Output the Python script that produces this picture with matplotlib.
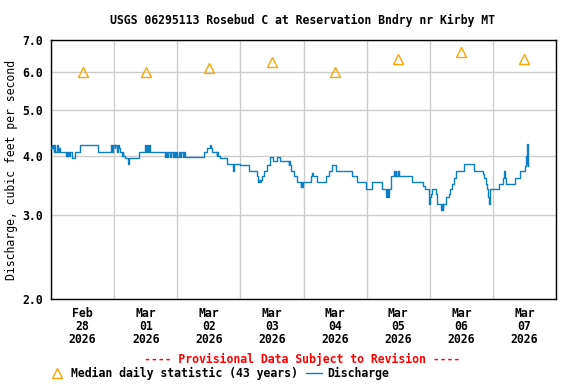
import numpy as np
import pandas as pd
import matplotlib
matplotlib.use("Agg")
import matplotlib.pyplot as plt
import matplotlib.dates as mdates
from matplotlib.lines import Line2D
from matplotlib.ticker import FormatStrFormatter, NullLocator

# discharge (hours after 2026-02-28 00:00, cfs)
step_hours = [
    0.0, 0.3, 0.5, 0.8, 1.0, 1.3, 1.5, 2.3, 2.5, 3.0, 3.3, 5.7, 6.0, 6.2, 6.5,
    6.7, 7.2, 7.8, 9.3, 11.2, 17.8, 22.9, 23.3, 23.6, 24.2, 24.5, 25.0, 25.3,
    25.8, 26.3, 27.0, 27.3, 27.5, 28.2, 29.3, 29.6, 33.6, 35.8, 36.1, 36.6,
    37.0, 37.4, 37.8, 43.2, 43.6, 44.2, 44.6, 45.3, 45.7, 46.2, 46.6, 47.2,
    47.5, 48.0, 48.5, 49.2, 49.6, 50.0, 50.6, 51.0, 58.0, 59.5, 60.3, 60.8,
    61.2, 63.0, 63.3, 63.6, 64.2, 66.9, 69.3, 69.6, 72.0, 75.2, 78.4, 78.8,
    79.2, 79.5, 80.0, 80.3, 81.0, 82.1, 83.4, 84.3, 85.9, 86.9, 90.4, 90.6,
    90.8, 91.1, 92.3, 93.6, 94.9, 95.2, 95.5, 95.9, 98.7, 99.4, 99.7, 101.3,
    104.5, 105.7, 107.0, 108.3, 114.6, 116.5, 119.6, 122.2, 126.0, 127.5,
    127.8, 128.0, 128.5, 129.1, 130.4, 130.7, 131.0, 131.3, 131.8, 132.2,
    137.4, 141.5, 142.2, 143.8, 144.2, 144.4, 145.0, 146.3, 146.9, 148.3,
    148.6, 148.9, 149.2, 150.1, 151.4, 151.8, 152.4, 153.4, 154.0, 157.1,
    161.0, 164.2, 164.8, 165.4, 165.9, 166.3, 166.6, 166.9, 170.5, 171.8,
    172.4, 172.7, 173.1, 176.5, 178.4, 180.4, 180.7, 180.9, 181.1, 181.3,
    181.5,
]
step_cfs = [
    4.15, 4.21, 4.15, 4.21, 4.08, 4.21, 4.08, 4.21, 4.08, 4.15, 4.08, 3.99,
    4.08, 3.99, 4.08, 3.99, 4.08, 3.96, 4.08, 4.21, 4.08, 4.21, 4.08, 4.21,
    4.15, 4.21, 4.08, 4.21, 4.15, 4.08, 3.99, 4.08, 3.99, 3.96, 3.85, 3.96,
    4.08, 4.21, 4.08, 4.21, 4.08, 4.21, 4.08, 3.97, 4.08, 3.97, 4.08, 3.97,
    4.08, 3.97, 4.08, 3.97, 4.08, 3.97, 4.08, 3.97, 4.08, 3.97, 4.08, 3.97,
    4.08, 4.15, 4.21, 4.15, 4.08, 3.99, 4.08, 3.99, 3.96, 3.85, 3.71, 3.85,
    3.83, 3.72, 3.62, 3.52, 3.56, 3.52, 3.56, 3.62, 3.72, 3.83, 3.97, 3.90,
    3.97, 3.90, 3.83, 3.90, 3.83, 3.72, 3.62, 3.52, 3.44, 3.52, 3.44, 3.52,
    3.62, 3.67, 3.62, 3.52, 3.62, 3.72, 3.83, 3.72, 3.62, 3.52, 3.40, 3.52,
    3.40, 3.28, 3.40, 3.28, 3.40, 3.62, 3.72, 3.62, 3.72, 3.62, 3.72, 3.62,
    3.52, 3.46, 3.40, 3.17, 3.27, 3.33, 3.40, 3.33, 3.16, 3.07, 3.16, 3.07,
    3.16, 3.27, 3.33, 3.40, 3.49, 3.59, 3.72, 3.84, 3.72, 3.66, 3.59, 3.49,
    3.40, 3.27, 3.16, 3.40, 3.49, 3.59, 3.72, 3.59, 3.49, 3.59, 3.72, 3.80,
    4.00, 3.85, 4.23, 3.80, 3.84,
]

# median daily statistic (43 years), one per day
median_days = ["2026-02-28", "2026-03-01", "2026-03-02", "2026-03-03",
               "2026-03-04", "2026-03-05", "2026-03-06", "2026-03-07"]
median_cfs = [6.0, 6.0, 6.1, 6.3, 6.0, 6.4, 6.6, 6.4]

y_ticks = [2.0, 3.0, 4.0, 5.0, 6.0, 7.0]

title = "USGS 06295113 Rosebud C at Reservation Bndry nr Kirby MT"
ylabel = "Discharge, cubic feet per second"
notice = "---- Provisional Data Subject to Revision ----"


def main():
    plt.rcParams["font.family"] = ["DejaVu Sans Mono"]
    plt.rcParams["font.weight"] = "bold"
    plt.rcParams["font.size"] = 8.3

    start = pd.Timestamp("2026-02-28")
    times = start + pd.to_timedelta(step_hours, unit="h")
    mdays = pd.to_datetime(median_days) + pd.Timedelta(hours=12)

    fig = plt.figure(figsize=(5.76, 3.84), dpi=100)
    ax = fig.add_axes([51 / 576, 1 - 299 / 384, 505 / 576, 259 / 384])

    ax.step(times, step_cfs, where="post", color="#0a7fc8", lw=1.0, zorder=3)
    ax.plot(mdays, median_cfs, ls="none", marker="^", ms=7.5, mfc="none",
            mec="#ffa500", mew=1.0, zorder=4)

    ax.set_yscale("log")
    ax.set_ylim(2.0, 7.0)
    ax.set_yticks(y_ticks)
    ax.yaxis.set_major_formatter(FormatStrFormatter("%.1f"))
    ax.yaxis.set_minor_locator(NullLocator())

    ax.set_xlim(start, start + pd.Timedelta(days=8))
    ax.xaxis.set_major_locator(mdates.HourLocator(byhour=[12]))
    ax.xaxis.set_major_formatter(mdates.DateFormatter("%b\n%d\n%Y"))
    ax.xaxis.set_minor_locator(mdates.DayLocator())

    ax.grid(True, which="minor", axis="x", color="#cccccc", lw=1.0)
    ax.grid(True, which="major", axis="y", color="#cccccc", lw=1.0)
    ax.tick_params(which="both", length=0)
    ax.tick_params(axis="y", pad=5.5)
    ax.tick_params(axis="x", pad=6)
    for lab in ax.get_xticklabels():
        lab.set_linespacing(0.97)
    for s in ax.spines.values():
        s.set_linewidth(1.0)

    ax.set_ylabel(ylabel)
    ax.yaxis.set_label_coords(-33 / 505, 0.5)

    fig.text(302 / 576, 1 - 20 / 384, title, ha="center", va="center")
    fig.text(302 / 576, 1 - 359 / 384, notice, ha="center", va="center",
             color="red")

    handles = [
        Line2D([], [], ls="none", marker="^", ms=7.5, mfc="none",
               mec="#ffa500", mew=1.0),
        Line2D([], [], color="#0a7fc8", lw=1.0),
    ]
    fig.legend(handles, ["Median daily statistic (43 years)", "Discharge"],
               ncol=2, frameon=False, loc="center left",
               bbox_to_anchor=(49 / 576, 1 - 373 / 384),
               borderpad=0, borderaxespad=0, handlelength=1.4,
               handletextpad=0.5, columnspacing=0.7)

    fig.savefig("out.png", dpi=100)


if __name__ == "__main__":
    main()
